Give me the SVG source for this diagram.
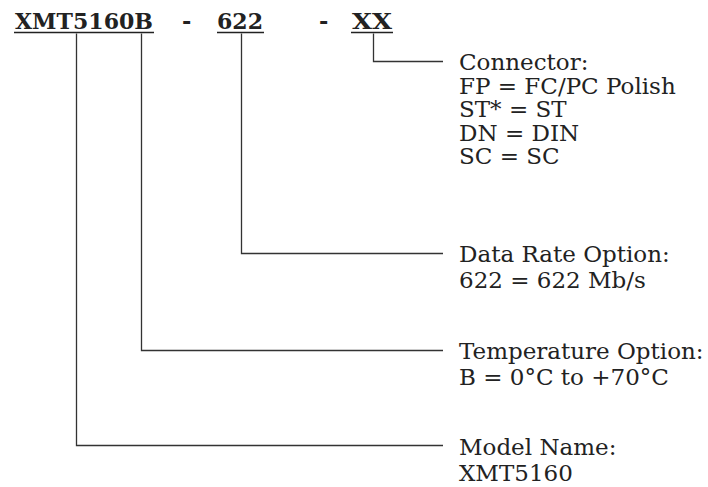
<svg xmlns="http://www.w3.org/2000/svg" width="708" height="487" viewBox="0 0 708 487">
<style>
.t{font-family:"DejaVu Serif","Liberation Serif",serif;font-size:23px;fill:#222}
.h{font-family:"DejaVu Serif","Liberation Serif",serif;font-size:22.5px;font-weight:bold;fill:#222}
.u{stroke:#222;stroke-width:1.6;fill:none}
.c{stroke:#333;stroke-width:1.3;fill:none}
</style>
<rect width="708" height="487" fill="#fff"/>
<g id="part-number">
<text class="h" x="15" y="29" textLength="138" lengthAdjust="spacingAndGlyphs">XMT5160B</text>
<text class="h" x="182" y="29">-</text>
<text class="h" x="217" y="29" textLength="46" lengthAdjust="spacingAndGlyphs">622</text>
<text class="h" x="319" y="29">-</text>
<text class="h" x="352" y="29" textLength="40" lengthAdjust="spacingAndGlyphs">XX</text>
<line class="u" x1="14" y1="32.5" x2="154" y2="32.5"/>
<line class="u" x1="217" y1="32.5" x2="264" y2="32.5"/>
<line class="u" x1="351" y1="32.5" x2="393" y2="32.5"/>
</g>
<g id="connectors">
<path class="c" d="M373.5,33.5 V61.5 H443"/>
<path class="c" d="M241.5,33.5 V253.5 H443"/>
<path class="c" d="M141.5,33.5 V350.5 H443"/>
<path class="c" d="M76.5,33.5 V445.5 H443"/>
</g>
<g id="connector-option">
<text class="t" x="459" y="70">Connector:</text>
<text class="t" x="459" y="93.5">FP = FC/PC Polish</text>
<text class="t" x="459" y="117">ST* = ST</text>
<text class="t" x="459" y="140.5">DN = DIN</text>
<text class="t" x="459" y="164">SC = SC</text>
</g>
<g id="data-rate-option">
<text class="t" x="459" y="262">Data Rate Option:</text>
<text class="t" x="459" y="288">622 = 622 Mb/s</text>
</g>
<g id="temperature-option">
<text class="t" x="459" y="359">Temperature Option:</text>
<text class="t" x="459" y="385">B = 0°C to +70°C</text>
</g>
<g id="model-name">
<text class="t" x="459" y="455">Model Name:</text>
<text class="t" x="459" y="481">XMT5160</text>
</g>
</svg>
